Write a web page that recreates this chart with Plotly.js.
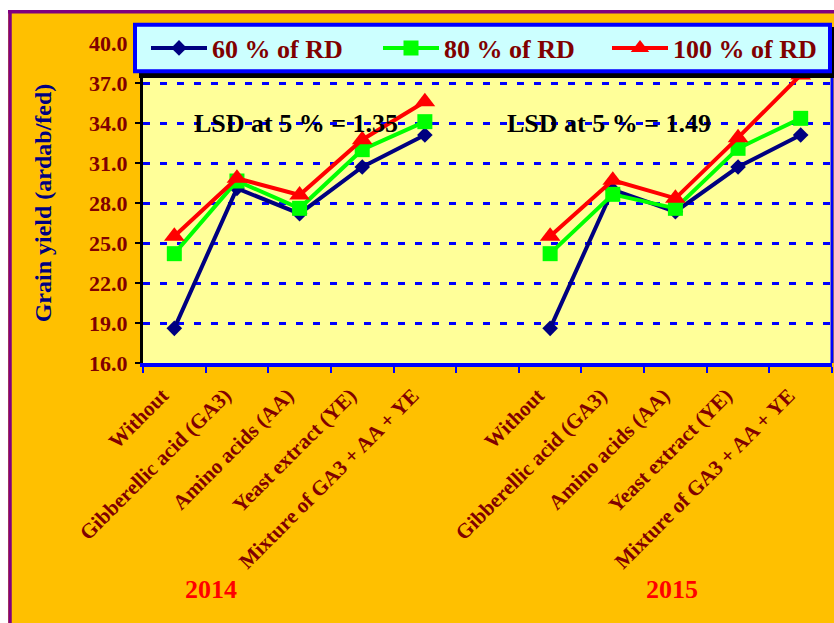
<!DOCTYPE html>
<html><head><meta charset="utf-8">
<script src="https://cdn.plot.ly/plotly-3.0.1.min.js"></script>
<style>html,body{margin:0;padding:0;background:#fff}</style>
</head><body><div id="chart" style="width:834px;height:623px"></div>
<script>
const treatments = ["Without","Gibberellic acid (GA3)","Amino acids (AA)","Yeast extract (YE)","Mixture of GA3 + AA + YE"];
const years = ["2014","2015"];
const seriesNames = ["60 % of RD","80 % of RD","100 % of RD"];
const rd60_2014 = [18.6, 29.1, 27.2, 30.7, 33.1];
const rd80_2014 = [24.2, 29.65, 27.6, 32.0, 34.1];
const rd100_2014 = [25.5, 29.85, 28.6, 32.75, 35.6];
const rd60_2015 = [18.6, 29.0, 27.35, 30.7, 33.1];
const rd80_2015 = [24.2, 28.65, 27.6, 32.1, 34.35];
const rd100_2015 = [25.5, 29.7, 28.35, 32.9, 37.6];
const lsdLabels = ["LSD at 5 % = 1.35","LSD at 5 % = 1.49"];
const yTicks = [16, 19, 22, 25, 28, 31, 34, 37, 40];

// geometry helpers (pixel -> paper)
const L = 143, R = 832, T = 43, B = 363;
const px = v => (v - L) / (R - L);
const py = v => (B - v) / (B - T);

const gapPos = treatments.length;
const x2014 = treatments.map((_, i) => i);
const x2015 = treatments.map((_, i) => i + gapPos + 1);
const xAll = [...x2014, gapPos, ...x2015];
const tickText = [...treatments, "", ...treatments];
const join = (a, b) => [...a, null, ...b];

const FONT = "Liberation Serif, Times New Roman, serif";
const styles = [
  {color: "#000080", symbol: "diamond", size: 12, legend: "legend", lx: 146},
  {color: "#00FF00", symbol: "square", size: 15, legend: "legend2", lx: 378},
  {color: "#FF0000", symbol: "triangle-up", size: 18, legend: "legend3", lx: 607}
];
const yData = [join(rd60_2014, rd60_2015), join(rd80_2014, rd80_2015), join(rd100_2014, rd100_2015)];

const traces = yData.map((y, k) => ({
  type: "scatter", mode: "lines+markers", name: seriesNames[k], legend: styles[k].legend,
  x: xAll, y: y, connectgaps: false,
  line: {color: styles[k].color, width: 4},
  marker: {color: styles[k].color, symbol: styles[k].symbol, size: styles[k].size}
}));

const legendStyle = lx => ({
  orientation: "h", x: px(lx), xanchor: "left", y: py(48), yanchor: "middle",
  bgcolor: "rgba(0,0,0,0)", borderwidth: 0, itemwidth: 56,
  font: {family: FONT, size: 26, color: "#800000", weight: "bold"}
});

const layout = {
  width: 834, height: 623,
  paper_bgcolor: "#FFC000", plot_bgcolor: "#FFFF99",
  margin: {l: L, r: 834 - R, t: T, b: 623 - B, pad: 0},
  showlegend: true,
  xaxis: {
    range: [-0.5, xAll.length - 0.5], tickmode: "array", tickvals: xAll, ticktext: tickText,
    tickangle: -45, ticks: "", showgrid: false, zeroline: false,
    ticklabelstandoff: 8, ticklabelshift: -12,
    showline: true, linecolor: "#0000FF", linewidth: 4,
    tickfont: {family: FONT, size: 21, color: "#800000", weight: "bold"},
    minor: {ticks: "outside", tick0: -0.5, dtick: 1, ticklen: 6, tickwidth: 2, tickcolor: "#0000FF", showgrid: false}
  },
  yaxis: {
    range: [16, 40], tickmode: "array", tickvals: yTicks, tickformat: ".1f",
    ticks: "outside", ticklen: 5, tickwidth: 2, tickcolor: "#000000", ticklabelstandoff: 3,
    showline: true, linecolor: "#000000", linewidth: 3, zeroline: false,
    showgrid: true, gridcolor: "#0000FF", gridwidth: 3, griddash: "7px,10px",
    tickfont: {family: FONT, size: 22, color: "#800000", weight: "bold"},
    title: {text: "Grain yield (ardab/fed)", standoff: 31,
            font: {family: FONT, size: 24, color: "#000080", weight: "bold"}}
  },
  legend: legendStyle(styles[0].lx),
  legend2: legendStyle(styles[1].lx),
  legend3: legendStyle(styles[2].lx),
  shapes: [
    {type: "rect", xref: "paper", yref: "paper", layer: "below",
     x0: px(-20), x1: px(860), y0: py(-20), y1: py(10),
     fillcolor: "#FFFFFF", line: {width: 0}},
    {type: "rect", xref: "paper", yref: "paper", layer: "below",
     x0: px(-20), x1: px(8), y0: py(-20), y1: py(660),
     fillcolor: "#FFFFFF", line: {width: 0}},
    {type: "line", xref: "paper", yref: "paper", layer: "below",
     x0: px(8), x1: px(860), y0: py(11.7), y1: py(11.7),
     line: {color: "#800080", width: 3.5}},
    {type: "line", xref: "paper", yref: "paper", layer: "below",
     x0: px(10), x1: px(10), y0: py(10), y1: py(660),
     line: {color: "#800080", width: 3.5}},
    {type: "line", xref: "paper", yref: "paper", layer: "above",
     x0: 1, x1: 1, y0: 0, y1: 1,
     line: {color: "#0000FF", width: 3}},
    {type: "rect", xref: "paper", yref: "paper", layer: "above",
     x0: px(139), x1: px(836), y0: py(27), y1: py(78),
     fillcolor: "#000000", line: {width: 0}},
    {type: "rect", xref: "paper", yref: "paper", layer: "above",
     x0: px(135), x1: px(830), y0: py(24.7), y1: py(71.3),
     fillcolor: "#CCFFFF", line: {color: "#0000FF", width: 4}}
  ],
  annotations: [
    {text: lsdLabels[0], xref: "paper", yref: "y", x: px(296), y: 34, xanchor: "center", yanchor: "middle", showarrow: false,
     font: {family: FONT, size: 26, color: "#000000", weight: "bold"}},
    {text: lsdLabels[1], xref: "paper", yref: "y", x: px(609), y: 34, xanchor: "center", yanchor: "middle", showarrow: false,
     font: {family: FONT, size: 26, color: "#000000", weight: "bold"}},
    {text: years[0], xref: "paper", yref: "paper", x: px(211), y: py(589), xanchor: "center", yanchor: "middle", showarrow: false,
     font: {family: FONT, size: 26, color: "#FF0000", weight: "bold"}},
    {text: years[1], xref: "paper", yref: "paper", x: px(672), y: py(589), xanchor: "center", yanchor: "middle", showarrow: false,
     font: {family: FONT, size: 26, color: "#FF0000", weight: "bold"}}
  ]
};

Plotly.newPlot("chart", traces, layout, {displayModeBar: false, staticPlot: true});
</script>
</body></html>
